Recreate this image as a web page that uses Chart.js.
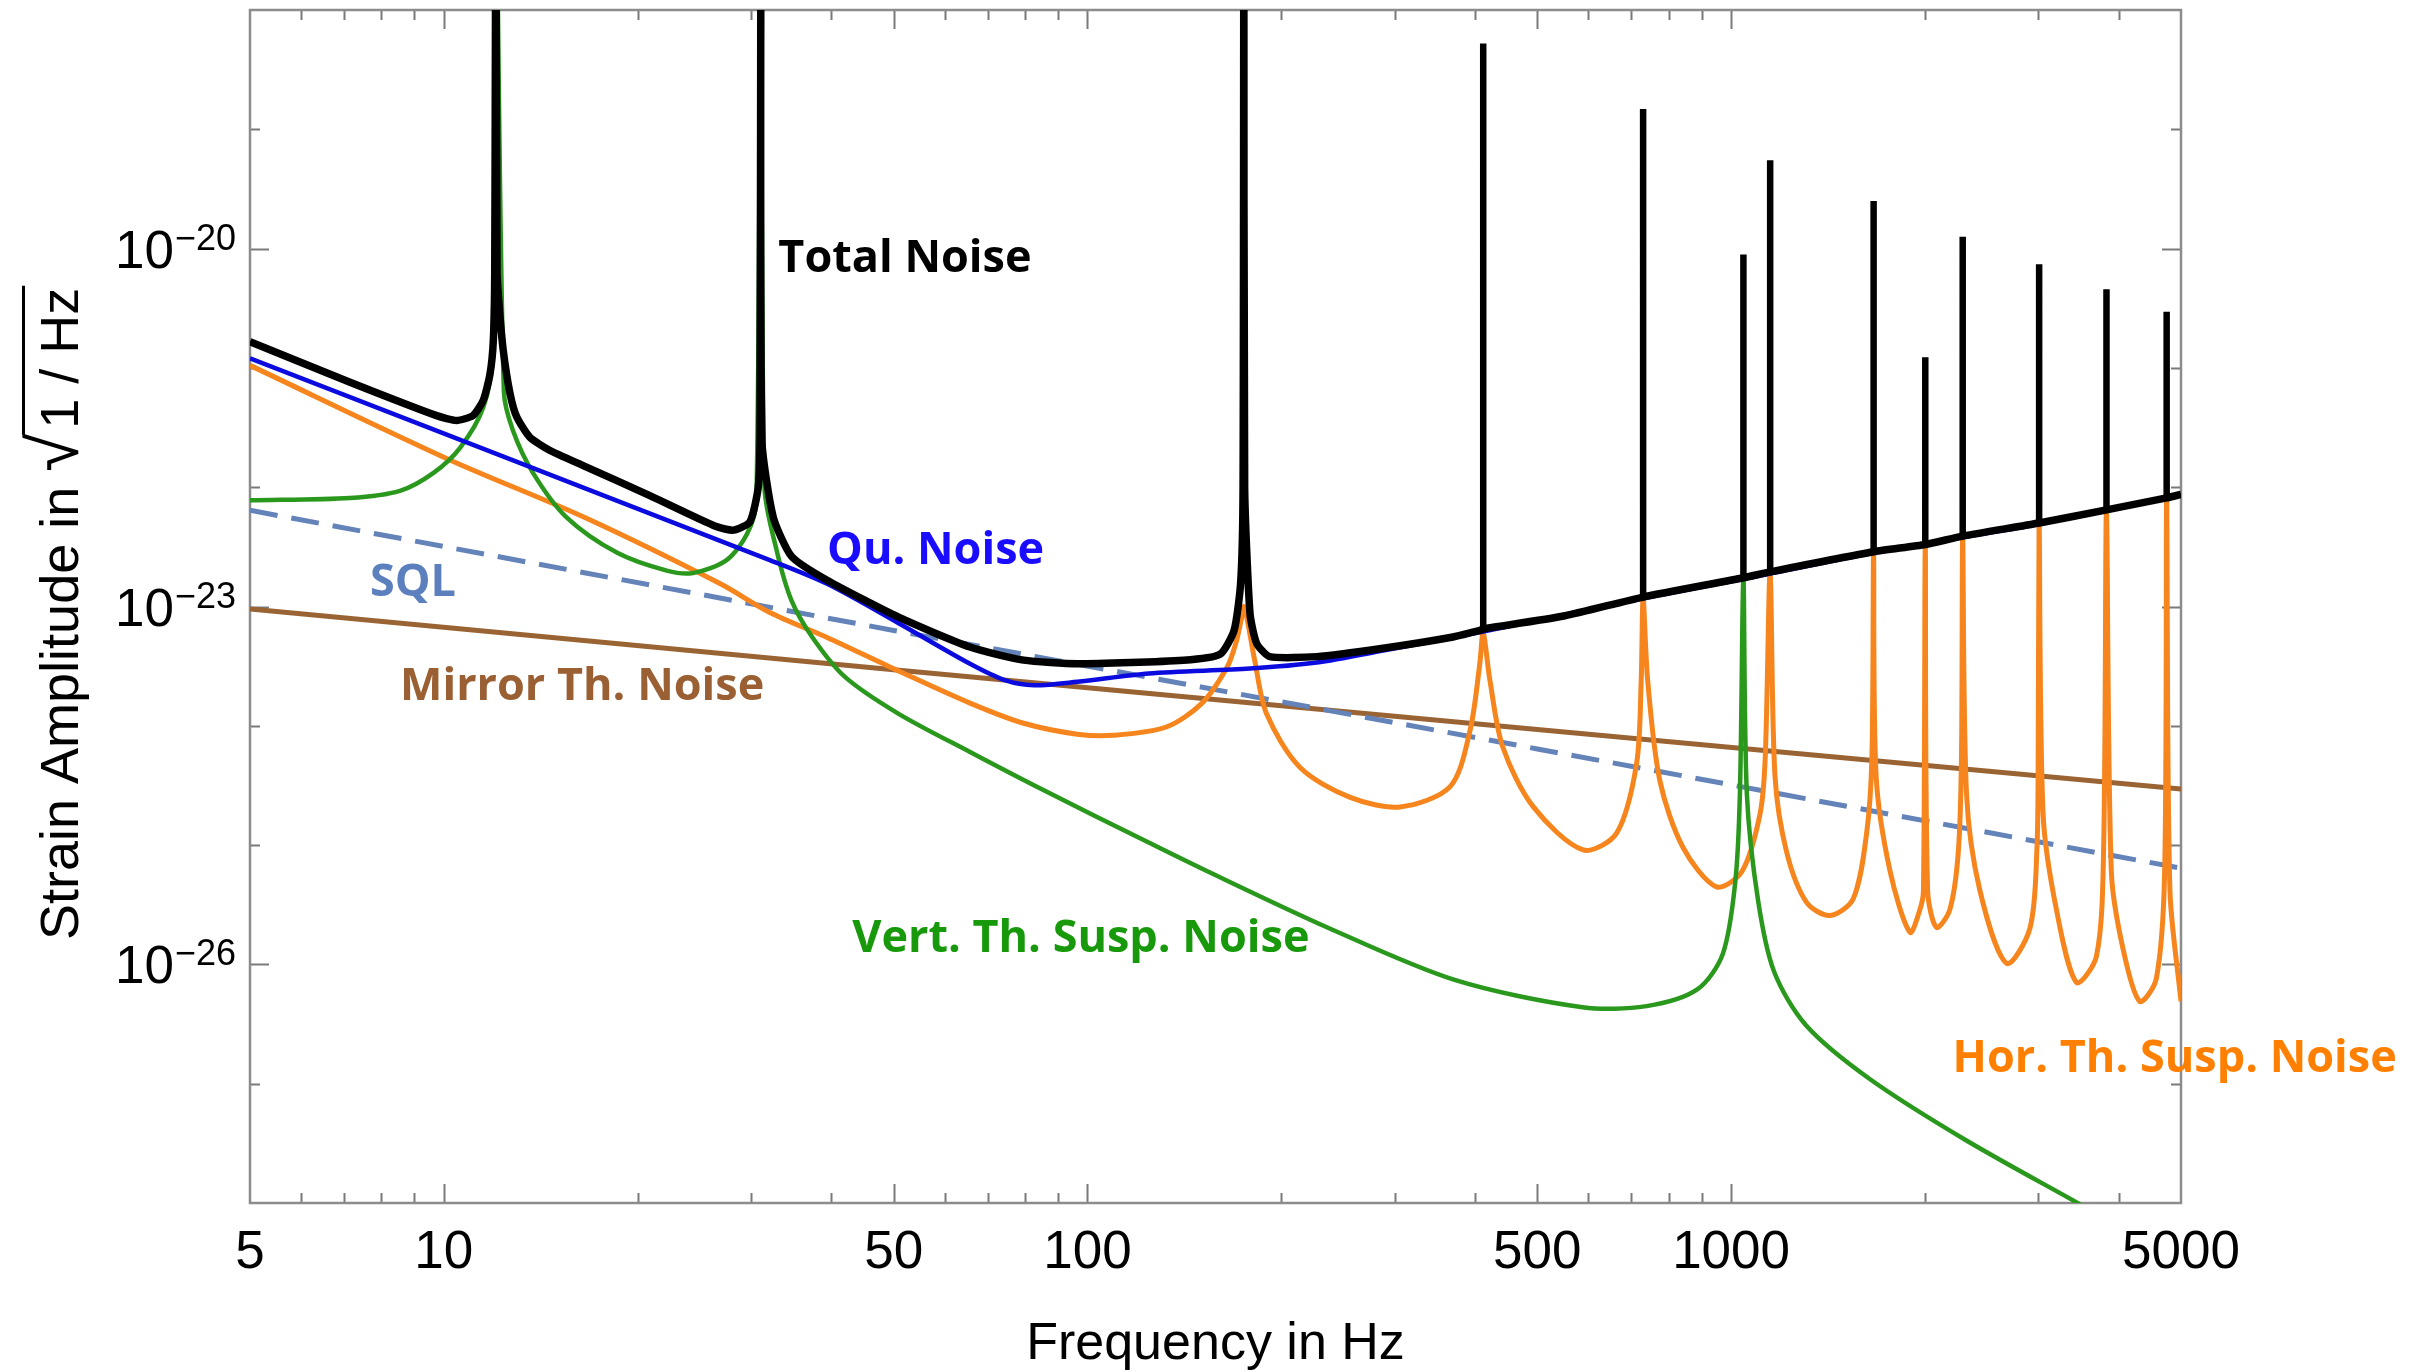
<!DOCTYPE html>
<html>
<head>
<meta charset="utf-8">
<script src="https://cdn.jsdelivr.net/npm/chart.js@4.4.1/dist/chart.umd.min.js"></script>
<style>
  html, body { margin: 0; padding: 0; background: #ffffff; }
  #wrap { width: 2421px; height: 1372px; }
</style>
</head>
<body>
<div id="wrap"><canvas id="c" width="2421" height="1372"></canvas></div>
<script>
// ---------------- DATA (frequency in Hz, strain amplitude in 1/sqrt(Hz)) ----------------
// Total noise: broadband curve incl. the three low-frequency suspension resonances
const totalNoise = [
  [5, 1.66e-21], [7.15, 7.59e-22], [9.75, 3.98e-22], [10.47, 3.63e-22], [11.1, 3.98e-22],
  [11.52, 5.37e-22], [11.8, 8.91e-22], [11.94, 1.70e-21], [12.0, 6.3e-21], [12.05, 1e-17],
  [12.1, 6.3e-21], [12.2, 3.16e-21], [12.37, 1.41e-21], [12.67, 6.17e-22], [12.98, 3.89e-22],
  [13.6, 2.63e-22], [14.6, 2.04e-22], [16.5, 1.51e-22], [20.9, 8.51e-23], [26.5, 4.68e-23],
  [28.2, 4.37e-23], [29.9, 5.13e-23], [30.8, 1.0e-22], [31.0, 2.82e-22], [31.1, 1e-17],
  [31.2, 2.51e-22], [32.5, 5.62e-23], [34.7, 2.63e-23], [39.4, 1.66e-23], [50.9, 8.13e-24],
  [65.7, 4.57e-24], [79.6, 3.55e-24], [96.4, 3.31e-24], [141, 3.55e-24], [160.7, 3.98e-24],
  [169, 6.31e-24], [173, 1.58e-23], [174.5, 1e-22], [175, 1e-17], [175.5, 1e-22],
  [178.9, 8.71e-24], [183.2, 4.9e-24], [192, 3.8e-24], [227, 3.8e-24], [288, 4.47e-24],
  [366, 5.5e-24], [407, 6.31e-24], [412, 6.46e-24], [420, 6.6e-24], [550, 8.32e-24],
  [730, 1.2e-23], [1045, 1.74e-23], [1150, 1.95e-23], [1665, 2.88e-23], [2003, 3.31e-23],
  [2290, 3.89e-23], [3010, 5.01e-23], [3830, 6.46e-23], [4750, 8.13e-23], [5000, 8.71e-23]
];
// Total noise: narrow high-frequency resonances [frequency, base, peak]
const totalNoiseResonances = [
  [412, 6.46e-24, 5.25e-19], [730, 1.2e-23, 1.48e-19], [1045, 1.74e-23, 8.91e-21],
  [1150, 1.95e-23, 5.5e-20], [1665, 2.88e-23, 2.51e-20], [2003, 3.31e-23, 1.23e-21],
  [2290, 3.89e-23, 1.26e-20], [3010, 5.01e-23, 7.41e-21], [3830, 6.46e-23, 4.57e-21],
  [4750, 8.13e-23, 2.95e-21]
];

const quantumNoise = [
  [5, 1.20e-21], [32.1, 2.45e-23], [39.4, 1.55e-23], [50.9, 7.24e-24], [65.7, 3.31e-24],
  [74.6, 2.40e-24], [82.6, 2.19e-24], [96.4, 2.34e-24], [124.5, 2.75e-24], [178.9, 3.02e-24],
  [227, 3.39e-24], [288, 4.27e-24], [412, 6.17e-24], [730, 1.17e-23], [1045, 1.70e-23],
  [1665, 2.82e-23], [2290, 3.80e-23], [3010, 4.90e-23], [5000, 8.51e-23]
];

const horSuspNoise = [
  [5, 1.05e-21], [10.2, 1.70e-22], [16.5, 5.62e-23], [26.9, 1.55e-23], [32.1, 8.91e-24],
  [39.4, 5.50e-24], [50.9, 2.88e-24], [65.7, 1.55e-24], [79.6, 1.05e-24], [96.4, 8.51e-25],
  [109.5, 8.32e-25], [132.6, 9.77e-25], [150.7, 1.55e-24], [164.8, 3.09e-24], [170, 4.90e-24],
  [173.5, 7.94e-24], [175, 1.0e-23], [177, 7.94e-24], [182, 3.5e-24], [189.8, 1.26e-24],
  [214, 4.47e-25], [256, 2.51e-25], [306, 2.09e-25], [366, 3.09e-25], [393, 9.12e-25],
  [407, 3.31e-24], [412, 6.03e-24], [422, 2.40e-24], [442, 6.61e-25], [493, 2.09e-25],
  [589, 9.12e-26], [664, 1.26e-25], [713, 4.79e-25], [725, 2.40e-24], [730, 1.15e-23],
  [742, 2.40e-24], [775, 3.47e-25], [842, 9.55e-26], [949, 4.47e-26], [1040, 6.03e-26],
  [1109, 1.82e-25], [1130, 5.50e-25], [1150, 1.91e-23], [1170, 3.80e-25], [1220, 8.71e-26],
  [1310, 3.31e-26], [1424, 2.57e-26], [1548, 3.55e-26], [1624, 1.26e-25], [1655, 5.50e-25],
  [1665, 2.75e-23], [1680, 3.80e-25], [1766, 6.03e-26], [1896, 1.86e-26], [1965, 2.88e-26],
  [1990, 4.17e-26], [2003, 3.16e-23], [2020, 4.17e-26], [2085, 2.04e-26], [2187, 2.88e-26],
  [2254, 8.71e-26], [2280, 5.50e-25], [2290, 3.72e-23], [2322, 2.63e-25], [2435, 4.17e-26],
  [2679, 1.02e-26], [2912, 2.0e-26], [2985, 8.71e-26], [3000, 5.50e-25], [3010, 4.90e-23],
  [3053, 1.82e-25], [3202, 2.88e-26], [3440, 7.08e-27], [3695, 1.17e-26], [3790, 8.71e-26],
  [3830, 6.31e-23], [3897, 6.03e-26], [4060, 1.38e-26], [4312, 4.9e-27], [4577, 7.59e-27],
  [4716, 6.03e-26], [4750, 7.94e-23], [4806, 4.17e-26], [5000, 4.9e-27]
];

const vertSuspNoise = [
  [5, 7.76e-23], [7.15, 8.13e-23], [8.55, 9.33e-23], [9.64, 1.32e-22], [10.6, 2.14e-22],
  [11.52, 4.68e-22], [11.9, 1.26e-21], [12.05, 1e-17], [12.4, 6.31e-22], [12.8, 3.02e-22],
  [13.76, 1.32e-22], [15.5, 5.62e-23], [18.6, 2.82e-23], [22.2, 2.0e-23], [24.4, 1.91e-23],
  [27.5, 2.45e-23], [29.6, 4.07e-23], [30.6, 7.76e-23], [31.1, 1e-17], [31.5, 1e-22],
  [32.9, 2.95e-23], [34.7, 1.12e-23], [37.4, 5.5e-24], [42, 2.57e-24], [50.9, 1.26e-24],
  [65.7, 6.03e-25], [84.8, 2.95e-25], [124.5, 1.05e-25], [149.6, 6.46e-26], [236, 2.04e-26],
  [372, 7.41e-27], [588, 4.37e-27], [739, 4.47e-27], [886, 6.17e-27], [971, 1.23e-26],
  [1015, 4.9e-26], [1032, 2.69e-25], [1045, 1.66e-23], [1058, 2.69e-25], [1101, 3.47e-26],
  [1166, 8.71e-27], [1307, 3.09e-27], [1640, 1.1e-27], [2310, 3.39e-28], [3483, 9.77e-29]
];

const sqlLimit = [[5, 6.4e-23], [50, 6.3e-24], [500, 6.4e-25], [5000, 6.4e-26]];
const mirrorThermal = [[5, 9.55e-24], [50, 2.95e-24], [500, 9.33e-25], [5000, 2.95e-25]];

const xTickLabels = [5, 10, 50, 100, 500, 1000, 5000];
const xMajorTicks = [10, 50, 100, 500, 1000];
const xMinorTicks = [6, 7, 8, 9, 20, 30, 40, 60, 70, 80, 90, 200, 300, 400, 600, 700, 800, 900, 2000, 3000, 4000];
const yDecades = [-27, -26, -25, -24, -23, -22, -21, -20, -19];
const yLabelExponents = [-20, -23, -26];

const seriesLabels = [
  { text: 'Total Noise', f: 33.1, h: 6.35e-21, color: '#000000' },
  { text: 'Qu. Noise', f: 39.4, h: 2.29e-23, color: '#1a0dff' },
  { text: 'SQL', f: 7.68, h: 1.22e-23, color: '#5c80bd' },
  { text: 'Mirror Th. Noise', f: 8.55, h: 1.64e-24, color: '#9a5f32' },
  { text: 'Vert. Th. Susp. Noise', f: 43.1, h: 1.28e-26, color: '#17990b' },
  { text: 'Hor. Th. Susp. Noise', f: 2208, h: 1.26e-27, color: '#ff7f00' }
];

// ---------------- CHART ----------------
const toXY = arr => arr.map(p => ({ x: p[0], y: p[1] }));
const spikesXY = arr => arr.flatMap(p => [{ x: p[0], y: p[1] }, { x: p[0], y: p[2] }, { x: p[0], y: null }]);

const decor = {
  id: 'decor',
  beforeDatasetsDraw(chart) {
    const { ctx, chartArea: a, scales: { x, y } } = chart;
    ctx.save();
    ctx.strokeStyle = '#7a7a7a';
    ctx.lineWidth = 2;
    const vtick = (v, len) => {
      const px = Math.round(x.getPixelForValue(v)) + 0.5;
      ctx.beginPath();
      ctx.moveTo(px, a.bottom); ctx.lineTo(px, a.bottom - len);
      ctx.moveTo(px, a.top); ctx.lineTo(px, a.top + len);
      ctx.stroke();
    };
    xMinorTicks.forEach(v => vtick(v, 10));
    xMajorTicks.forEach(v => vtick(v, 19));
    yDecades.forEach(e => {
      const len = yLabelExponents.includes(e) ? 19 : 10;
      const py = Math.round(y.getPixelForValue(Math.pow(10, e))) + 0.5;
      ctx.beginPath();
      ctx.moveTo(a.left, py); ctx.lineTo(a.left + len, py);
      ctx.moveTo(a.right, py); ctx.lineTo(a.right - len, py);
      ctx.stroke();
    });
    ctx.strokeStyle = '#8c8c8c';
    ctx.lineWidth = 2.5;
    ctx.strokeRect(a.left, a.top, a.right - a.left, a.bottom - a.top);
    ctx.restore();
  },
  afterDraw(chart) {
    const { ctx, chartArea: a, scales: { x, y } } = chart;
    ctx.save();
    // y tick labels 10^n
    ctx.fillStyle = '#000';
    ctx.textAlign = 'right';
    ctx.textBaseline = 'alphabetic';
    yLabelExponents.forEach(e => {
      const py = y.getPixelForValue(Math.pow(10, e));
      ctx.font = '53px "Liberation Sans"';
      ctx.fillText('10', 174, py + 19);
      ctx.font = '36px "Liberation Sans"';
      ctx.fillText('\u2212' + Math.abs(e), 236, py + 1);
    });
    // x axis title
    ctx.textAlign = 'center';
    ctx.font = '52px "Liberation Sans"';
    ctx.fillText('Frequency in Hz', (a.left + a.right) / 2, 1359);
    // y axis title
    ctx.save();
    ctx.translate(78, 940);
    ctx.rotate(-Math.PI / 2);
    ctx.textAlign = 'left';
    ctx.font = '54px "Liberation Sans"';
    const t1 = 'Strain Amplitude in ';
    ctx.fillText(t1, 0, 0);
    let cx = ctx.measureText(t1).width;
    ctx.font = '70px "Liberation Sans"';
    const rm = ctx.measureText('\u221A');
    ctx.fillText('\u221A', cx, 0);
    const rTop = rm.actualBoundingBoxAscent;
    const rRight = cx + rm.actualBoundingBoxRight;
    cx = rRight + 4;
    ctx.font = '54px "Liberation Sans"';
    const t2 = '1 / Hz';
    ctx.fillText(t2, cx, 0);
    const end = cx + ctx.measureText(t2).width + 2;
    ctx.fillRect(rRight - 2, -rTop, end - rRight + 2, 3);
    ctx.restore();
    // series labels
    ctx.textAlign = 'left';
    ctx.textBaseline = 'alphabetic';
    ctx.font = 'bold 45px "Open Sans"';
    seriesLabels.forEach(l => {
      ctx.fillStyle = l.color;
      ctx.fillText(l.text, x.getPixelForValue(l.f), y.getPixelForValue(l.h));
    });
    ctx.restore();
  }
};

const base = { pointRadius: 0, pointHoverRadius: 0, fill: false, borderJoinStyle: 'round', borderCapStyle: 'butt' };

new Chart(document.getElementById('c'), {
  type: 'line',
  data: {
    datasets: [
      Object.assign({}, base, { label: 'Total Noise resonances', data: spikesXY(totalNoiseResonances), borderColor: '#000000', borderWidth: 6.5, tension: 0, borderJoinStyle: 'bevel', spanGaps: false }),
      Object.assign({}, base, { label: 'Total Noise', data: toXY(totalNoise), borderColor: '#000000', borderWidth: 7.5, tension: 0.2 }),
      Object.assign({}, base, { label: 'Qu. Noise', data: toXY(quantumNoise), borderColor: '#0b0be0', borderWidth: 4.5, tension: 0.3 }),
      Object.assign({}, base, { label: 'Vert. Th. Susp. Noise', data: toXY(vertSuspNoise), borderColor: '#2a981d', borderWidth: 4.5, tension: 0.3 }),
      Object.assign({}, base, { label: 'Hor. Th. Susp. Noise', data: toXY(horSuspNoise), borderColor: '#f5851c', borderWidth: 5, tension: 0.3 }),
      Object.assign({}, base, { label: 'SQL', data: toXY(sqlLimit), borderColor: '#6383b9', borderWidth: 5, borderDash: [28, 14], tension: 0 }),
      Object.assign({}, base, { label: 'Mirror Th. Noise', data: toXY(mirrorThermal), borderColor: '#9a6333', borderWidth: 5, tension: 0 })
    ]
  },
  options: {
    responsive: false,
    devicePixelRatio: 1,
    animation: false,
    events: [],
    layout: { padding: { top: 10, right: 240, bottom: 0, left: 0 } },
    plugins: { legend: { display: false }, tooltip: { enabled: false }, title: { display: false } },
    scales: {
      x: {
        type: 'logarithmic',
        min: 5, max: 5000,
        grid: { display: false, drawTicks: false },
        border: { display: false },
        ticks: {
          autoSkip: false, maxRotation: 0, minRotation: 0, padding: 19,
          color: '#000', font: { family: 'Liberation Sans', size: 53 },
          callback: v => String(v)
        },
        afterBuildTicks: s => { s.ticks = xTickLabels.map(v => ({ value: v })); },
        afterFit: s => { s.height = 169; }
      },
      y: {
        type: 'logarithmic',
        min: 1e-28, max: 1e-18,
        grid: { display: false, drawTicks: false },
        border: { display: false },
        ticks: { display: false },
        afterFit: s => { s.width = 250; }
      }
    }
  },
  plugins: [decor]
});
</script>
</body>
</html>
